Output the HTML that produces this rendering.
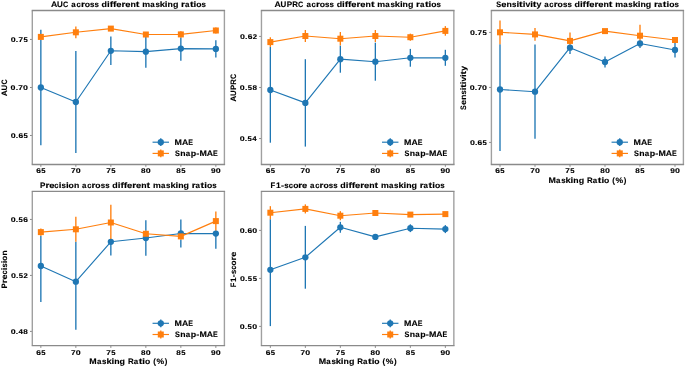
<!DOCTYPE html><html><head><meta charset="utf-8"><style>html,body{margin:0;padding:0;background:#fff;}svg{display:block;}#w{will-change:transform;width:685px;height:367px;}text{font-family:"Liberation Sans", sans-serif;font-weight:bold;fill:#000;stroke:#000;stroke-width:0.12px;text-rendering:geometricPrecision;}</style></head><body>
<div id="w"><svg width="685" height="367" viewBox="0 0 685 367">
<rect width="685" height="367" fill="#fff"/>
<text transform="translate(50.98,6.95) scale(1.101,1)" font-size="7.9">A</text>
<text transform="translate(57.02,6.95) scale(1.010,1)" font-size="7.9">U</text>
<text transform="translate(63.09,6.95) scale(0.918,1)" font-size="7.9">C</text>
<text transform="translate(71.36,6.95) scale(1.007,1)" font-size="7.9">a</text>
<text transform="translate(76.44,6.95) scale(0.959,1)" font-size="7.9">c</text>
<text transform="translate(80.9,6.95) scale(1.277,1)" font-size="7.9">r</text>
<text transform="translate(84.68,6.95) scale(1.093,1)" font-size="7.9">o</text>
<text transform="translate(90.04,6.95) scale(1.004,1)" font-size="7.9">s</text>
<text transform="translate(94.58,6.95) scale(1.004,1)" font-size="7.9">s</text>
<text transform="translate(101.62,6.95) scale(1.126,1)" font-size="7.9">d</text>
<text transform="translate(107.07,6.95) scale(1.232,1)" font-size="7.9">i</text>
<text transform="translate(109.7,6.95) scale(1.294,1)" font-size="7.9">f</text>
<text transform="translate(113.01,6.95) scale(1.294,1)" font-size="7.9">f</text>
<text transform="translate(116.33,6.95) scale(1.177,1)" font-size="7.9">e</text>
<text transform="translate(121.51,6.95) scale(1.277,1)" font-size="7.9">r</text>
<text transform="translate(125.26,6.95) scale(1.177,1)" font-size="7.9">e</text>
<text transform="translate(130.53,6.95) scale(1.103,1)" font-size="7.9">n</text>
<text transform="translate(135.85,6.95) scale(1.387,1)" font-size="7.9">t</text>
<text transform="translate(142.23,6.95) scale(1.120,1)" font-size="7.9">m</text>
<text transform="translate(150.24,6.95) scale(1.007,1)" font-size="7.9">a</text>
<text transform="translate(155.4,6.95) scale(1.004,1)" font-size="7.9">s</text>
<text transform="translate(159.8,6.95) scale(1.192,1)" font-size="7.9">k</text>
<text transform="translate(164.85,6.95) scale(1.232,1)" font-size="7.9">i</text>
<text transform="translate(167.57,6.95) scale(1.103,1)" font-size="7.9">n</text>
<text transform="translate(172.9,6.95) scale(1.130,1)" font-size="7.9">g</text>
<text transform="translate(181.02,6.95) scale(1.277,1)" font-size="7.9">r</text>
<text transform="translate(184.91,6.95) scale(1.007,1)" font-size="7.9">a</text>
<text transform="translate(189.91,6.95) scale(1.387,1)" font-size="7.9">t</text>
<text transform="translate(193.56,6.95) scale(1.232,1)" font-size="7.9">i</text>
<text transform="translate(196.21,6.95) scale(1.093,1)" font-size="7.9">o</text>
<text transform="translate(201.56,6.95) scale(1.004,1)" font-size="7.9">s</text>
<line x1="30" y1="135.48" x2="32.4" y2="135.48" stroke="#555" stroke-width="0.7"/>
<text transform="translate(10.78,138.06) scale(1.282,1)" font-size="6.88">0</text>
<text transform="translate(15.79,138.06) scale(1.258,1)" font-size="6.88">.</text>
<text transform="translate(18.44,138.06) scale(1.222,1)" font-size="6.88">6</text>
<text transform="translate(23.49,138.06) scale(1.119,1)" font-size="6.88">5</text>
<line x1="30" y1="87.48" x2="32.4" y2="87.48" stroke="#555" stroke-width="0.7"/>
<text transform="translate(10.62,90.06) scale(1.282,1)" font-size="6.88">0</text>
<text transform="translate(15.64,90.06) scale(1.258,1)" font-size="6.88">.</text>
<text transform="translate(18.3,90.06) scale(1.194,1)" font-size="6.88">7</text>
<text transform="translate(23.02,90.06) scale(1.282,1)" font-size="6.88">0</text>
<line x1="30" y1="39.43" x2="32.4" y2="39.43" stroke="#555" stroke-width="0.7"/>
<text transform="translate(10.78,42.01) scale(1.282,1)" font-size="6.88">0</text>
<text transform="translate(15.79,42.01) scale(1.258,1)" font-size="6.88">.</text>
<text transform="translate(18.45,42.01) scale(1.194,1)" font-size="6.88">7</text>
<text transform="translate(23.49,42.01) scale(1.119,1)" font-size="6.88">5</text>
<line x1="40.85" y1="164.4" x2="40.85" y2="166.8" stroke="#555" stroke-width="0.7"/>
<text transform="translate(36.14,173.3) scale(1.222,1)" font-size="6.88">6</text>
<text transform="translate(41.2,173.3) scale(1.119,1)" font-size="6.88">5</text>
<line x1="75.85" y1="164.4" x2="75.85" y2="166.8" stroke="#555" stroke-width="0.7"/>
<text transform="translate(71.06,173.3) scale(1.194,1)" font-size="6.88">7</text>
<text transform="translate(75.78,173.3) scale(1.282,1)" font-size="6.88">0</text>
<line x1="110.85" y1="164.4" x2="110.85" y2="166.8" stroke="#555" stroke-width="0.7"/>
<text transform="translate(106.13,173.3) scale(1.194,1)" font-size="6.88">7</text>
<text transform="translate(111.18,173.3) scale(1.119,1)" font-size="6.88">5</text>
<line x1="145.85" y1="164.4" x2="145.85" y2="166.8" stroke="#555" stroke-width="0.7"/>
<text transform="translate(141.11,173.3) scale(1.180,1)" font-size="6.88">8</text>
<text transform="translate(145.8,173.3) scale(1.282,1)" font-size="6.88">0</text>
<line x1="180.85" y1="164.4" x2="180.85" y2="166.8" stroke="#555" stroke-width="0.7"/>
<text transform="translate(176.19,173.3) scale(1.180,1)" font-size="6.88">8</text>
<text transform="translate(181.2,173.3) scale(1.119,1)" font-size="6.88">5</text>
<line x1="215.85" y1="164.4" x2="215.85" y2="166.8" stroke="#555" stroke-width="0.7"/>
<text transform="translate(211.05,173.3) scale(1.216,1)" font-size="6.88">9</text>
<text transform="translate(215.84,173.3) scale(1.282,1)" font-size="6.88">0</text>
<g transform="translate(7,87.95) rotate(-90)">
<text transform="translate(-8.37,0) scale(1.065,1)" font-size="7.9">A</text>
<text transform="translate(-2.53,0) scale(0.977,1)" font-size="7.9">U</text>
<text transform="translate(3.33,0) scale(0.888,1)" font-size="7.9">C</text>
</g>
<line x1="40.85" y1="29.8" x2="40.85" y2="34.4" stroke="#1f77b4" stroke-width="1.35"/>
<line x1="40.85" y1="39.4" x2="40.85" y2="145.2" stroke="#1f77b4" stroke-width="1.35"/>
<line x1="75.85" y1="51.1" x2="75.85" y2="152.9" stroke="#1f77b4" stroke-width="1.35"/>
<line x1="110.85" y1="36.6" x2="110.85" y2="65" stroke="#1f77b4" stroke-width="1.35"/>
<line x1="145.85" y1="36.5" x2="145.85" y2="67.7" stroke="#1f77b4" stroke-width="1.35"/>
<line x1="180.85" y1="37.45" x2="180.85" y2="60.7" stroke="#1f77b4" stroke-width="1.35"/>
<line x1="215.85" y1="40.2" x2="215.85" y2="57.6" stroke="#1f77b4" stroke-width="1.35"/>
<line x1="40.85" y1="34.4" x2="40.85" y2="39.4" stroke="#ff7f0e" stroke-width="1.35"/>
<line x1="75.85" y1="26.4" x2="75.85" y2="38.2" stroke="#ff7f0e" stroke-width="1.35"/>
<line x1="110.85" y1="26.6" x2="110.85" y2="30.6" stroke="#ff7f0e" stroke-width="1.35"/>
<line x1="145.85" y1="32.5" x2="145.85" y2="36.5" stroke="#ff7f0e" stroke-width="1.35"/>
<line x1="180.85" y1="31.35" x2="180.85" y2="37.45" stroke="#ff7f0e" stroke-width="1.35"/>
<line x1="215.85" y1="27.45" x2="215.85" y2="33.55" stroke="#ff7f0e" stroke-width="1.35"/>
<polyline points="40.85,87.5 75.85,102 110.85,50.8 145.85,51.65 180.85,48.6 215.85,48.9" fill="none" stroke="#1f77b4" stroke-width="1.15" stroke-linejoin="round"/>
<circle cx="40.85" cy="87.5" r="3.15" fill="#1f77b4"/>
<circle cx="75.85" cy="102" r="3.15" fill="#1f77b4"/>
<circle cx="110.85" cy="50.8" r="3.15" fill="#1f77b4"/>
<circle cx="145.85" cy="51.65" r="3.15" fill="#1f77b4"/>
<circle cx="180.85" cy="48.6" r="3.15" fill="#1f77b4"/>
<circle cx="215.85" cy="48.9" r="3.15" fill="#1f77b4"/>
<polyline points="40.85,36.9 75.85,32.3 110.85,28.6 145.85,34.5 180.85,34.4 215.85,30.5" fill="none" stroke="#ff7f0e" stroke-width="1.15" stroke-linejoin="round"/>
<rect x="37.85" y="33.9" width="6.0" height="6.0" fill="#ff7f0e"/>
<rect x="72.85" y="29.3" width="6.0" height="6.0" fill="#ff7f0e"/>
<rect x="107.85" y="25.6" width="6.0" height="6.0" fill="#ff7f0e"/>
<rect x="142.85" y="31.5" width="6.0" height="6.0" fill="#ff7f0e"/>
<rect x="177.85" y="31.4" width="6.0" height="6.0" fill="#ff7f0e"/>
<rect x="212.85" y="27.5" width="6.0" height="6.0" fill="#ff7f0e"/>
<line x1="160.78" y1="138.3" x2="160.78" y2="146.1" stroke="#1f77b4" stroke-width="1.35"/>
<line x1="152.55" y1="142.2" x2="169" y2="142.2" stroke="#1f77b4" stroke-width="1.15"/>
<circle cx="160.78" cy="142.2" r="3.15" fill="#1f77b4"/>
<text transform="translate(174.62,144.95) scale(1.122,1)" font-size="7.9">M</text>
<text transform="translate(181.93,144.95) scale(1.101,1)" font-size="7.9">A</text>
<text transform="translate(188.23,144.95) scale(0.894,1)" font-size="7.9">E</text>
<line x1="160.78" y1="149.5" x2="160.78" y2="157.3" stroke="#ff7f0e" stroke-width="1.35"/>
<line x1="152.55" y1="153.4" x2="169" y2="153.4" stroke="#ff7f0e" stroke-width="1.15"/>
<rect x="157.78" y="150.4" width="6.0" height="6.0" fill="#ff7f0e"/>
<text transform="translate(175,156.15) scale(0.927,1)" font-size="7.9">S</text>
<text transform="translate(180.22,156.15) scale(1.103,1)" font-size="7.9">n</text>
<text transform="translate(185.68,156.15) scale(1.007,1)" font-size="7.9">a</text>
<text transform="translate(190.78,156.15) scale(1.126,1)" font-size="7.9">p</text>
<text transform="translate(196.23,156.15) scale(1.173,1)" font-size="7.9">-</text>
<text transform="translate(199.45,156.15) scale(1.122,1)" font-size="7.9">M</text>
<text transform="translate(206.75,156.15) scale(1.101,1)" font-size="7.9">A</text>
<text transform="translate(213.06,156.15) scale(0.894,1)" font-size="7.9">E</text>
<line x1="32.3" y1="10.5" x2="32.3" y2="164.5" stroke="#a0a0a0" stroke-width="1.4"/>
<line x1="224.4" y1="10.5" x2="224.4" y2="164.5" stroke="#a0a0a0" stroke-width="1.4"/>
<line x1="31.7" y1="10.5" x2="225.1" y2="10.5" stroke="#8a8a8a" stroke-width="1.4"/>
<line x1="31.7" y1="164.5" x2="225.1" y2="164.5" stroke="#8a8a8a" stroke-width="1.4"/>
<text transform="translate(274.55,6.95) scale(1.101,1)" font-size="7.9">A</text>
<text transform="translate(280.59,6.95) scale(1.010,1)" font-size="7.9">U</text>
<text transform="translate(286.73,6.95) scale(1.025,1)" font-size="7.9">P</text>
<text transform="translate(292.33,6.95) scale(1.006,1)" font-size="7.9">R</text>
<text transform="translate(298.12,6.95) scale(0.918,1)" font-size="7.9">C</text>
<text transform="translate(306.39,6.95) scale(1.007,1)" font-size="7.9">a</text>
<text transform="translate(311.47,6.95) scale(0.959,1)" font-size="7.9">c</text>
<text transform="translate(315.93,6.95) scale(1.277,1)" font-size="7.9">r</text>
<text transform="translate(319.71,6.95) scale(1.093,1)" font-size="7.9">o</text>
<text transform="translate(325.07,6.95) scale(1.004,1)" font-size="7.9">s</text>
<text transform="translate(329.61,6.95) scale(1.004,1)" font-size="7.9">s</text>
<text transform="translate(336.65,6.95) scale(1.126,1)" font-size="7.9">d</text>
<text transform="translate(342.1,6.95) scale(1.232,1)" font-size="7.9">i</text>
<text transform="translate(344.73,6.95) scale(1.294,1)" font-size="7.9">f</text>
<text transform="translate(348.04,6.95) scale(1.294,1)" font-size="7.9">f</text>
<text transform="translate(351.36,6.95) scale(1.177,1)" font-size="7.9">e</text>
<text transform="translate(356.54,6.95) scale(1.277,1)" font-size="7.9">r</text>
<text transform="translate(360.29,6.95) scale(1.177,1)" font-size="7.9">e</text>
<text transform="translate(365.56,6.95) scale(1.103,1)" font-size="7.9">n</text>
<text transform="translate(370.88,6.95) scale(1.387,1)" font-size="7.9">t</text>
<text transform="translate(377.26,6.95) scale(1.120,1)" font-size="7.9">m</text>
<text transform="translate(385.27,6.95) scale(1.007,1)" font-size="7.9">a</text>
<text transform="translate(390.43,6.95) scale(1.004,1)" font-size="7.9">s</text>
<text transform="translate(394.83,6.95) scale(1.192,1)" font-size="7.9">k</text>
<text transform="translate(399.88,6.95) scale(1.232,1)" font-size="7.9">i</text>
<text transform="translate(402.6,6.95) scale(1.103,1)" font-size="7.9">n</text>
<text transform="translate(407.93,6.95) scale(1.130,1)" font-size="7.9">g</text>
<text transform="translate(416.05,6.95) scale(1.277,1)" font-size="7.9">r</text>
<text transform="translate(419.94,6.95) scale(1.007,1)" font-size="7.9">a</text>
<text transform="translate(424.94,6.95) scale(1.387,1)" font-size="7.9">t</text>
<text transform="translate(428.59,6.95) scale(1.232,1)" font-size="7.9">i</text>
<text transform="translate(431.24,6.95) scale(1.093,1)" font-size="7.9">o</text>
<text transform="translate(436.59,6.95) scale(1.004,1)" font-size="7.9">s</text>
<line x1="259.15" y1="138.54" x2="261.55" y2="138.54" stroke="#555" stroke-width="0.7"/>
<text transform="translate(239.74,141.12) scale(1.282,1)" font-size="6.88">0</text>
<text transform="translate(244.76,141.12) scale(1.258,1)" font-size="6.88">.</text>
<text transform="translate(247.59,141.12) scale(1.119,1)" font-size="6.88">5</text>
<text transform="translate(252.36,141.12) scale(1.153,1)" font-size="6.88">4</text>
<line x1="259.15" y1="87.48" x2="261.55" y2="87.48" stroke="#555" stroke-width="0.7"/>
<text transform="translate(239.87,90.06) scale(1.282,1)" font-size="6.88">0</text>
<text transform="translate(244.88,90.06) scale(1.258,1)" font-size="6.88">.</text>
<text transform="translate(247.71,90.06) scale(1.119,1)" font-size="6.88">5</text>
<text transform="translate(252.44,90.06) scale(1.180,1)" font-size="6.88">8</text>
<line x1="259.15" y1="36.42" x2="261.55" y2="36.42" stroke="#555" stroke-width="0.7"/>
<text transform="translate(240.04,39) scale(1.282,1)" font-size="6.88">0</text>
<text transform="translate(245.05,39) scale(1.258,1)" font-size="6.88">.</text>
<text transform="translate(247.7,39) scale(1.222,1)" font-size="6.88">6</text>
<text transform="translate(252.73,39) scale(1.123,1)" font-size="6.88">2</text>
<line x1="270.35" y1="164.4" x2="270.35" y2="166.8" stroke="#555" stroke-width="0.7"/>
<text transform="translate(265.64,173.3) scale(1.222,1)" font-size="6.88">6</text>
<text transform="translate(270.7,173.3) scale(1.119,1)" font-size="6.88">5</text>
<line x1="305.35" y1="164.4" x2="305.35" y2="166.8" stroke="#555" stroke-width="0.7"/>
<text transform="translate(300.56,173.3) scale(1.194,1)" font-size="6.88">7</text>
<text transform="translate(305.28,173.3) scale(1.282,1)" font-size="6.88">0</text>
<line x1="340.35" y1="164.4" x2="340.35" y2="166.8" stroke="#555" stroke-width="0.7"/>
<text transform="translate(335.63,173.3) scale(1.194,1)" font-size="6.88">7</text>
<text transform="translate(340.68,173.3) scale(1.119,1)" font-size="6.88">5</text>
<line x1="375.35" y1="164.4" x2="375.35" y2="166.8" stroke="#555" stroke-width="0.7"/>
<text transform="translate(370.61,173.3) scale(1.180,1)" font-size="6.88">8</text>
<text transform="translate(375.3,173.3) scale(1.282,1)" font-size="6.88">0</text>
<line x1="410.35" y1="164.4" x2="410.35" y2="166.8" stroke="#555" stroke-width="0.7"/>
<text transform="translate(405.69,173.3) scale(1.180,1)" font-size="6.88">8</text>
<text transform="translate(410.7,173.3) scale(1.119,1)" font-size="6.88">5</text>
<line x1="445.35" y1="164.4" x2="445.35" y2="166.8" stroke="#555" stroke-width="0.7"/>
<text transform="translate(440.55,173.3) scale(1.216,1)" font-size="6.88">9</text>
<text transform="translate(445.34,173.3) scale(1.282,1)" font-size="6.88">0</text>
<g transform="translate(236.15,87.95) rotate(-90)">
<text transform="translate(-13.91,0) scale(1.065,1)" font-size="7.9">A</text>
<text transform="translate(-8.07,0) scale(0.977,1)" font-size="7.9">U</text>
<text transform="translate(-2.14,0) scale(0.993,1)" font-size="7.9">P</text>
<text transform="translate(3.28,0) scale(0.972,1)" font-size="7.9">R</text>
<text transform="translate(8.87,0) scale(0.888,1)" font-size="7.9">C</text>
</g>
<line x1="270.35" y1="37.3" x2="270.35" y2="37.3" stroke="#1f77b4" stroke-width="1.35"/>
<line x1="270.35" y1="46.9" x2="270.35" y2="142.7" stroke="#1f77b4" stroke-width="1.35"/>
<line x1="305.35" y1="59.2" x2="305.35" y2="146.6" stroke="#1f77b4" stroke-width="1.35"/>
<line x1="340.35" y1="45.6" x2="340.35" y2="72.7" stroke="#1f77b4" stroke-width="1.35"/>
<line x1="375.35" y1="42.7" x2="375.35" y2="80.7" stroke="#1f77b4" stroke-width="1.35"/>
<line x1="410.35" y1="48.9" x2="410.35" y2="66.7" stroke="#1f77b4" stroke-width="1.35"/>
<line x1="445.35" y1="49.8" x2="445.35" y2="65.8" stroke="#1f77b4" stroke-width="1.35"/>
<line x1="270.35" y1="37.3" x2="270.35" y2="46.9" stroke="#ff7f0e" stroke-width="1.35"/>
<line x1="305.35" y1="30" x2="305.35" y2="42" stroke="#ff7f0e" stroke-width="1.35"/>
<line x1="340.35" y1="32" x2="340.35" y2="45.4" stroke="#ff7f0e" stroke-width="1.35"/>
<line x1="375.35" y1="30" x2="375.35" y2="42" stroke="#ff7f0e" stroke-width="1.35"/>
<line x1="410.35" y1="33.65" x2="410.35" y2="40.75" stroke="#ff7f0e" stroke-width="1.35"/>
<line x1="445.35" y1="26.1" x2="445.35" y2="35.7" stroke="#ff7f0e" stroke-width="1.35"/>
<polyline points="270.35,90 305.35,102.9 340.35,59.15 375.35,61.7 410.35,57.8 445.35,57.8" fill="none" stroke="#1f77b4" stroke-width="1.15" stroke-linejoin="round"/>
<circle cx="270.35" cy="90" r="3.15" fill="#1f77b4"/>
<circle cx="305.35" cy="102.9" r="3.15" fill="#1f77b4"/>
<circle cx="340.35" cy="59.15" r="3.15" fill="#1f77b4"/>
<circle cx="375.35" cy="61.7" r="3.15" fill="#1f77b4"/>
<circle cx="410.35" cy="57.8" r="3.15" fill="#1f77b4"/>
<circle cx="445.35" cy="57.8" r="3.15" fill="#1f77b4"/>
<polyline points="270.35,42.1 305.35,36 340.35,38.7 375.35,36 410.35,37.2 445.35,30.9" fill="none" stroke="#ff7f0e" stroke-width="1.15" stroke-linejoin="round"/>
<rect x="267.35" y="39.1" width="6.0" height="6.0" fill="#ff7f0e"/>
<rect x="302.35" y="33" width="6.0" height="6.0" fill="#ff7f0e"/>
<rect x="337.35" y="35.7" width="6.0" height="6.0" fill="#ff7f0e"/>
<rect x="372.35" y="33" width="6.0" height="6.0" fill="#ff7f0e"/>
<rect x="407.35" y="34.2" width="6.0" height="6.0" fill="#ff7f0e"/>
<rect x="442.35" y="27.9" width="6.0" height="6.0" fill="#ff7f0e"/>
<line x1="390.23" y1="138.3" x2="390.23" y2="146.1" stroke="#1f77b4" stroke-width="1.35"/>
<line x1="382" y1="142.2" x2="398.45" y2="142.2" stroke="#1f77b4" stroke-width="1.15"/>
<circle cx="390.23" cy="142.2" r="3.15" fill="#1f77b4"/>
<text transform="translate(404.07,144.95) scale(1.122,1)" font-size="7.9">M</text>
<text transform="translate(411.38,144.95) scale(1.101,1)" font-size="7.9">A</text>
<text transform="translate(417.68,144.95) scale(0.894,1)" font-size="7.9">E</text>
<line x1="390.23" y1="149.5" x2="390.23" y2="157.3" stroke="#ff7f0e" stroke-width="1.35"/>
<line x1="382" y1="153.4" x2="398.45" y2="153.4" stroke="#ff7f0e" stroke-width="1.15"/>
<rect x="387.23" y="150.4" width="6.0" height="6.0" fill="#ff7f0e"/>
<text transform="translate(404.45,156.15) scale(0.927,1)" font-size="7.9">S</text>
<text transform="translate(409.67,156.15) scale(1.103,1)" font-size="7.9">n</text>
<text transform="translate(415.13,156.15) scale(1.007,1)" font-size="7.9">a</text>
<text transform="translate(420.23,156.15) scale(1.126,1)" font-size="7.9">p</text>
<text transform="translate(425.68,156.15) scale(1.173,1)" font-size="7.9">-</text>
<text transform="translate(428.9,156.15) scale(1.122,1)" font-size="7.9">M</text>
<text transform="translate(436.2,156.15) scale(1.101,1)" font-size="7.9">A</text>
<text transform="translate(442.51,156.15) scale(0.894,1)" font-size="7.9">E</text>
<line x1="261.45" y1="10.5" x2="261.45" y2="164.5" stroke="#a0a0a0" stroke-width="1.4"/>
<line x1="453.85" y1="10.5" x2="453.85" y2="164.5" stroke="#a0a0a0" stroke-width="1.4"/>
<line x1="260.85" y1="10.5" x2="454.55" y2="10.5" stroke="#8a8a8a" stroke-width="1.4"/>
<line x1="260.85" y1="164.5" x2="454.55" y2="164.5" stroke="#8a8a8a" stroke-width="1.4"/>
<text transform="translate(496.16,6.95) scale(0.927,1)" font-size="7.9">S</text>
<text transform="translate(501.29,6.95) scale(1.177,1)" font-size="7.9">e</text>
<text transform="translate(506.55,6.95) scale(1.103,1)" font-size="7.9">n</text>
<text transform="translate(512.03,6.95) scale(1.004,1)" font-size="7.9">s</text>
<text transform="translate(516.41,6.95) scale(1.232,1)" font-size="7.9">i</text>
<text transform="translate(519.02,6.95) scale(1.387,1)" font-size="7.9">t</text>
<text transform="translate(522.67,6.95) scale(1.232,1)" font-size="7.9">i</text>
<text transform="translate(525.39,6.95) scale(1.098,1)" font-size="7.9">v</text>
<text transform="translate(530.26,6.95) scale(1.232,1)" font-size="7.9">i</text>
<text transform="translate(532.87,6.95) scale(1.387,1)" font-size="7.9">t</text>
<text transform="translate(536.57,6.95) scale(1.110,1)" font-size="7.9">y</text>
<text transform="translate(544.28,6.95) scale(1.007,1)" font-size="7.9">a</text>
<text transform="translate(549.36,6.95) scale(0.959,1)" font-size="7.9">c</text>
<text transform="translate(553.82,6.95) scale(1.277,1)" font-size="7.9">r</text>
<text transform="translate(557.6,6.95) scale(1.093,1)" font-size="7.9">o</text>
<text transform="translate(562.96,6.95) scale(1.004,1)" font-size="7.9">s</text>
<text transform="translate(567.5,6.95) scale(1.004,1)" font-size="7.9">s</text>
<text transform="translate(574.55,6.95) scale(1.126,1)" font-size="7.9">d</text>
<text transform="translate(579.99,6.95) scale(1.232,1)" font-size="7.9">i</text>
<text transform="translate(582.62,6.95) scale(1.294,1)" font-size="7.9">f</text>
<text transform="translate(585.94,6.95) scale(1.294,1)" font-size="7.9">f</text>
<text transform="translate(589.25,6.95) scale(1.177,1)" font-size="7.9">e</text>
<text transform="translate(594.43,6.95) scale(1.277,1)" font-size="7.9">r</text>
<text transform="translate(598.19,6.95) scale(1.177,1)" font-size="7.9">e</text>
<text transform="translate(603.45,6.95) scale(1.103,1)" font-size="7.9">n</text>
<text transform="translate(608.77,6.95) scale(1.387,1)" font-size="7.9">t</text>
<text transform="translate(615.15,6.95) scale(1.120,1)" font-size="7.9">m</text>
<text transform="translate(623.16,6.95) scale(1.007,1)" font-size="7.9">a</text>
<text transform="translate(628.32,6.95) scale(1.004,1)" font-size="7.9">s</text>
<text transform="translate(632.72,6.95) scale(1.192,1)" font-size="7.9">k</text>
<text transform="translate(637.77,6.95) scale(1.232,1)" font-size="7.9">i</text>
<text transform="translate(640.49,6.95) scale(1.103,1)" font-size="7.9">n</text>
<text transform="translate(645.82,6.95) scale(1.130,1)" font-size="7.9">g</text>
<text transform="translate(653.94,6.95) scale(1.277,1)" font-size="7.9">r</text>
<text transform="translate(657.83,6.95) scale(1.007,1)" font-size="7.9">a</text>
<text transform="translate(662.83,6.95) scale(1.387,1)" font-size="7.9">t</text>
<text transform="translate(666.48,6.95) scale(1.232,1)" font-size="7.9">i</text>
<text transform="translate(669.13,6.95) scale(1.093,1)" font-size="7.9">o</text>
<text transform="translate(674.49,6.95) scale(1.004,1)" font-size="7.9">s</text>
<line x1="489.1" y1="142.43" x2="491.5" y2="142.43" stroke="#555" stroke-width="0.7"/>
<text transform="translate(469.88,145.01) scale(1.282,1)" font-size="6.88">0</text>
<text transform="translate(474.89,145.01) scale(1.258,1)" font-size="6.88">.</text>
<text transform="translate(477.54,145.01) scale(1.222,1)" font-size="6.88">6</text>
<text transform="translate(482.59,145.01) scale(1.119,1)" font-size="6.88">5</text>
<line x1="489.1" y1="87.43" x2="491.5" y2="87.43" stroke="#555" stroke-width="0.7"/>
<text transform="translate(469.72,90.01) scale(1.282,1)" font-size="6.88">0</text>
<text transform="translate(474.74,90.01) scale(1.258,1)" font-size="6.88">.</text>
<text transform="translate(477.4,90.01) scale(1.194,1)" font-size="6.88">7</text>
<text transform="translate(482.12,90.01) scale(1.282,1)" font-size="6.88">0</text>
<line x1="489.1" y1="32.43" x2="491.5" y2="32.43" stroke="#555" stroke-width="0.7"/>
<text transform="translate(469.88,35.01) scale(1.282,1)" font-size="6.88">0</text>
<text transform="translate(474.89,35.01) scale(1.258,1)" font-size="6.88">.</text>
<text transform="translate(477.55,35.01) scale(1.194,1)" font-size="6.88">7</text>
<text transform="translate(482.59,35.01) scale(1.119,1)" font-size="6.88">5</text>
<line x1="500" y1="164.4" x2="500" y2="166.8" stroke="#555" stroke-width="0.7"/>
<text transform="translate(495.29,173.3) scale(1.222,1)" font-size="6.88">6</text>
<text transform="translate(500.35,173.3) scale(1.119,1)" font-size="6.88">5</text>
<line x1="535" y1="164.4" x2="535" y2="166.8" stroke="#555" stroke-width="0.7"/>
<text transform="translate(530.21,173.3) scale(1.194,1)" font-size="6.88">7</text>
<text transform="translate(534.93,173.3) scale(1.282,1)" font-size="6.88">0</text>
<line x1="570" y1="164.4" x2="570" y2="166.8" stroke="#555" stroke-width="0.7"/>
<text transform="translate(565.28,173.3) scale(1.194,1)" font-size="6.88">7</text>
<text transform="translate(570.33,173.3) scale(1.119,1)" font-size="6.88">5</text>
<line x1="605" y1="164.4" x2="605" y2="166.8" stroke="#555" stroke-width="0.7"/>
<text transform="translate(600.26,173.3) scale(1.180,1)" font-size="6.88">8</text>
<text transform="translate(604.95,173.3) scale(1.282,1)" font-size="6.88">0</text>
<line x1="640" y1="164.4" x2="640" y2="166.8" stroke="#555" stroke-width="0.7"/>
<text transform="translate(635.34,173.3) scale(1.180,1)" font-size="6.88">8</text>
<text transform="translate(640.35,173.3) scale(1.119,1)" font-size="6.88">5</text>
<line x1="675" y1="164.4" x2="675" y2="166.8" stroke="#555" stroke-width="0.7"/>
<text transform="translate(670.2,173.3) scale(1.216,1)" font-size="6.88">9</text>
<text transform="translate(674.99,173.3) scale(1.282,1)" font-size="6.88">0</text>
<g transform="translate(466.1,87.95) rotate(-90)">
<text transform="translate(-21.96,0) scale(0.897,1)" font-size="7.9">S</text>
<text transform="translate(-17,0) scale(1.140,1)" font-size="7.9">e</text>
<text transform="translate(-11.91,0) scale(1.066,1)" font-size="7.9">n</text>
<text transform="translate(-6.6,0) scale(0.971,1)" font-size="7.9">s</text>
<text transform="translate(-2.37,0) scale(1.188,1)" font-size="7.9">i</text>
<text transform="translate(0.17,0) scale(1.342,1)" font-size="7.9">t</text>
<text transform="translate(3.68,0) scale(1.188,1)" font-size="7.9">i</text>
<text transform="translate(6.33,0) scale(1.062,1)" font-size="7.9">v</text>
<text transform="translate(11.02,0) scale(1.188,1)" font-size="7.9">i</text>
<text transform="translate(13.55,0) scale(1.342,1)" font-size="7.9">t</text>
<text transform="translate(17.12,0) scale(1.073,1)" font-size="7.9">y</text>
</g>
<text transform="translate(548.41,182.85) scale(1.122,1)" font-size="7.9">M</text>
<text transform="translate(555.99,182.85) scale(1.007,1)" font-size="7.9">a</text>
<text transform="translate(561.15,182.85) scale(1.004,1)" font-size="7.9">s</text>
<text transform="translate(565.56,182.85) scale(1.192,1)" font-size="7.9">k</text>
<text transform="translate(570.61,182.85) scale(1.232,1)" font-size="7.9">i</text>
<text transform="translate(573.33,182.85) scale(1.103,1)" font-size="7.9">n</text>
<text transform="translate(578.66,182.85) scale(1.130,1)" font-size="7.9">g</text>
<text transform="translate(586.96,182.85) scale(1.006,1)" font-size="7.9">R</text>
<text transform="translate(592.77,182.85) scale(1.007,1)" font-size="7.9">a</text>
<text transform="translate(597.77,182.85) scale(1.387,1)" font-size="7.9">t</text>
<text transform="translate(601.42,182.85) scale(1.232,1)" font-size="7.9">i</text>
<text transform="translate(604.07,182.85) scale(1.093,1)" font-size="7.9">o</text>
<text transform="translate(612.23,182.85) scale(1.000,1)" font-size="7.9">(</text>
<text transform="translate(615.48,182.85) scale(1.083,1)" font-size="7.9">%</text>
<text transform="translate(623.7,182.85) scale(1.000,1)" font-size="7.9">)</text>
<line x1="500" y1="44.2" x2="500" y2="151" stroke="#1f77b4" stroke-width="1.35"/>
<line x1="535" y1="44.55" x2="535" y2="138.85" stroke="#1f77b4" stroke-width="1.35"/>
<line x1="570" y1="49.3" x2="570" y2="53.9" stroke="#1f77b4" stroke-width="1.35"/>
<line x1="605" y1="56.6" x2="605" y2="67.4" stroke="#1f77b4" stroke-width="1.35"/>
<line x1="640" y1="46.6" x2="640" y2="48" stroke="#1f77b4" stroke-width="1.35"/>
<line x1="675" y1="42.5" x2="675" y2="57.5" stroke="#1f77b4" stroke-width="1.35"/>
<line x1="500" y1="20.4" x2="500" y2="44.2" stroke="#ff7f0e" stroke-width="1.35"/>
<line x1="535" y1="27.95" x2="535" y2="40.85" stroke="#ff7f0e" stroke-width="1.35"/>
<line x1="570" y1="32.5" x2="570" y2="49.3" stroke="#ff7f0e" stroke-width="1.35"/>
<line x1="605" y1="29.1" x2="605" y2="33.1" stroke="#ff7f0e" stroke-width="1.35"/>
<line x1="640" y1="24.8" x2="640" y2="46.6" stroke="#ff7f0e" stroke-width="1.35"/>
<line x1="675" y1="38" x2="675" y2="42" stroke="#ff7f0e" stroke-width="1.35"/>
<polyline points="500,89.5 535,91.7 570,47.7 605,62 640,43.5 675,50" fill="none" stroke="#1f77b4" stroke-width="1.15" stroke-linejoin="round"/>
<circle cx="500" cy="89.5" r="3.15" fill="#1f77b4"/>
<circle cx="535" cy="91.7" r="3.15" fill="#1f77b4"/>
<circle cx="570" cy="47.7" r="3.15" fill="#1f77b4"/>
<circle cx="605" cy="62" r="3.15" fill="#1f77b4"/>
<circle cx="640" cy="43.5" r="3.15" fill="#1f77b4"/>
<circle cx="675" cy="50" r="3.15" fill="#1f77b4"/>
<polyline points="500,32.3 535,34.4 570,40.9 605,31.1 640,35.7 675,40" fill="none" stroke="#ff7f0e" stroke-width="1.15" stroke-linejoin="round"/>
<rect x="497" y="29.3" width="6.0" height="6.0" fill="#ff7f0e"/>
<rect x="532" y="31.4" width="6.0" height="6.0" fill="#ff7f0e"/>
<rect x="567" y="37.9" width="6.0" height="6.0" fill="#ff7f0e"/>
<rect x="602" y="28.1" width="6.0" height="6.0" fill="#ff7f0e"/>
<rect x="637" y="32.7" width="6.0" height="6.0" fill="#ff7f0e"/>
<rect x="672" y="37" width="6.0" height="6.0" fill="#ff7f0e"/>
<line x1="619.77" y1="138.3" x2="619.77" y2="146.1" stroke="#1f77b4" stroke-width="1.35"/>
<line x1="611.55" y1="142.2" x2="628" y2="142.2" stroke="#1f77b4" stroke-width="1.15"/>
<circle cx="619.77" cy="142.2" r="3.15" fill="#1f77b4"/>
<text transform="translate(633.62,144.95) scale(1.122,1)" font-size="7.9">M</text>
<text transform="translate(640.93,144.95) scale(1.101,1)" font-size="7.9">A</text>
<text transform="translate(647.23,144.95) scale(0.894,1)" font-size="7.9">E</text>
<line x1="619.77" y1="149.5" x2="619.77" y2="157.3" stroke="#ff7f0e" stroke-width="1.35"/>
<line x1="611.55" y1="153.4" x2="628" y2="153.4" stroke="#ff7f0e" stroke-width="1.15"/>
<rect x="616.77" y="150.4" width="6.0" height="6.0" fill="#ff7f0e"/>
<text transform="translate(634,156.15) scale(0.927,1)" font-size="7.9">S</text>
<text transform="translate(639.22,156.15) scale(1.103,1)" font-size="7.9">n</text>
<text transform="translate(644.68,156.15) scale(1.007,1)" font-size="7.9">a</text>
<text transform="translate(649.78,156.15) scale(1.126,1)" font-size="7.9">p</text>
<text transform="translate(655.23,156.15) scale(1.173,1)" font-size="7.9">-</text>
<text transform="translate(658.45,156.15) scale(1.122,1)" font-size="7.9">M</text>
<text transform="translate(665.75,156.15) scale(1.101,1)" font-size="7.9">A</text>
<text transform="translate(672.06,156.15) scale(0.894,1)" font-size="7.9">E</text>
<line x1="491.4" y1="10.5" x2="491.4" y2="164.5" stroke="#a0a0a0" stroke-width="1.4"/>
<line x1="683.4" y1="10.5" x2="683.4" y2="164.5" stroke="#a0a0a0" stroke-width="1.4"/>
<line x1="490.8" y1="10.5" x2="684.1" y2="10.5" stroke="#8a8a8a" stroke-width="1.4"/>
<line x1="490.8" y1="164.5" x2="684.1" y2="164.5" stroke="#8a8a8a" stroke-width="1.4"/>
<text transform="translate(39.97,187.85) scale(1.025,1)" font-size="7.9">P</text>
<text transform="translate(45.38,187.85) scale(1.277,1)" font-size="7.9">r</text>
<text transform="translate(49.14,187.85) scale(1.177,1)" font-size="7.9">e</text>
<text transform="translate(54.37,187.85) scale(0.959,1)" font-size="7.9">c</text>
<text transform="translate(58.82,187.85) scale(1.232,1)" font-size="7.9">i</text>
<text transform="translate(61.59,187.85) scale(1.004,1)" font-size="7.9">s</text>
<text transform="translate(65.97,187.85) scale(1.232,1)" font-size="7.9">i</text>
<text transform="translate(68.62,187.85) scale(1.093,1)" font-size="7.9">o</text>
<text transform="translate(73.93,187.85) scale(1.103,1)" font-size="7.9">n</text>
<text transform="translate(82.05,187.85) scale(1.007,1)" font-size="7.9">a</text>
<text transform="translate(87.13,187.85) scale(0.959,1)" font-size="7.9">c</text>
<text transform="translate(91.59,187.85) scale(1.277,1)" font-size="7.9">r</text>
<text transform="translate(95.37,187.85) scale(1.093,1)" font-size="7.9">o</text>
<text transform="translate(100.73,187.85) scale(1.004,1)" font-size="7.9">s</text>
<text transform="translate(105.27,187.85) scale(1.004,1)" font-size="7.9">s</text>
<text transform="translate(112.31,187.85) scale(1.126,1)" font-size="7.9">d</text>
<text transform="translate(117.76,187.85) scale(1.232,1)" font-size="7.9">i</text>
<text transform="translate(120.38,187.85) scale(1.294,1)" font-size="7.9">f</text>
<text transform="translate(123.7,187.85) scale(1.294,1)" font-size="7.9">f</text>
<text transform="translate(127.02,187.85) scale(1.177,1)" font-size="7.9">e</text>
<text transform="translate(132.19,187.85) scale(1.277,1)" font-size="7.9">r</text>
<text transform="translate(135.95,187.85) scale(1.177,1)" font-size="7.9">e</text>
<text transform="translate(141.22,187.85) scale(1.103,1)" font-size="7.9">n</text>
<text transform="translate(146.54,187.85) scale(1.387,1)" font-size="7.9">t</text>
<text transform="translate(152.92,187.85) scale(1.120,1)" font-size="7.9">m</text>
<text transform="translate(160.92,187.85) scale(1.007,1)" font-size="7.9">a</text>
<text transform="translate(166.09,187.85) scale(1.004,1)" font-size="7.9">s</text>
<text transform="translate(170.49,187.85) scale(1.192,1)" font-size="7.9">k</text>
<text transform="translate(175.54,187.85) scale(1.232,1)" font-size="7.9">i</text>
<text transform="translate(178.26,187.85) scale(1.103,1)" font-size="7.9">n</text>
<text transform="translate(183.59,187.85) scale(1.130,1)" font-size="7.9">g</text>
<text transform="translate(191.71,187.85) scale(1.277,1)" font-size="7.9">r</text>
<text transform="translate(195.59,187.85) scale(1.007,1)" font-size="7.9">a</text>
<text transform="translate(200.6,187.85) scale(1.387,1)" font-size="7.9">t</text>
<text transform="translate(204.24,187.85) scale(1.232,1)" font-size="7.9">i</text>
<text transform="translate(206.89,187.85) scale(1.093,1)" font-size="7.9">o</text>
<text transform="translate(212.25,187.85) scale(1.004,1)" font-size="7.9">s</text>
<line x1="30" y1="331.4" x2="32.4" y2="331.4" stroke="#555" stroke-width="0.7"/>
<text transform="translate(10.72,333.98) scale(1.282,1)" font-size="6.88">0</text>
<text transform="translate(15.73,333.98) scale(1.258,1)" font-size="6.88">.</text>
<text transform="translate(18.46,333.98) scale(1.153,1)" font-size="6.88">4</text>
<text transform="translate(23.29,333.98) scale(1.180,1)" font-size="6.88">8</text>
<line x1="30" y1="275.42" x2="32.4" y2="275.42" stroke="#555" stroke-width="0.7"/>
<text transform="translate(10.89,278) scale(1.282,1)" font-size="6.88">0</text>
<text transform="translate(15.9,278) scale(1.258,1)" font-size="6.88">.</text>
<text transform="translate(18.73,278) scale(1.119,1)" font-size="6.88">5</text>
<text transform="translate(23.58,278) scale(1.123,1)" font-size="6.88">2</text>
<line x1="30" y1="219.43" x2="32.4" y2="219.43" stroke="#555" stroke-width="0.7"/>
<text transform="translate(10.67,222.01) scale(1.282,1)" font-size="6.88">0</text>
<text transform="translate(15.68,222.01) scale(1.258,1)" font-size="6.88">.</text>
<text transform="translate(18.51,222.01) scale(1.119,1)" font-size="6.88">5</text>
<text transform="translate(23.2,222.01) scale(1.222,1)" font-size="6.88">6</text>
<line x1="40.85" y1="345.5" x2="40.85" y2="347.9" stroke="#555" stroke-width="0.7"/>
<text transform="translate(36.14,354.8) scale(1.222,1)" font-size="6.88">6</text>
<text transform="translate(41.2,354.8) scale(1.119,1)" font-size="6.88">5</text>
<line x1="75.85" y1="345.5" x2="75.85" y2="347.9" stroke="#555" stroke-width="0.7"/>
<text transform="translate(71.06,354.8) scale(1.194,1)" font-size="6.88">7</text>
<text transform="translate(75.78,354.8) scale(1.282,1)" font-size="6.88">0</text>
<line x1="110.85" y1="345.5" x2="110.85" y2="347.9" stroke="#555" stroke-width="0.7"/>
<text transform="translate(106.13,354.8) scale(1.194,1)" font-size="6.88">7</text>
<text transform="translate(111.18,354.8) scale(1.119,1)" font-size="6.88">5</text>
<line x1="145.85" y1="345.5" x2="145.85" y2="347.9" stroke="#555" stroke-width="0.7"/>
<text transform="translate(141.11,354.8) scale(1.180,1)" font-size="6.88">8</text>
<text transform="translate(145.8,354.8) scale(1.282,1)" font-size="6.88">0</text>
<line x1="180.85" y1="345.5" x2="180.85" y2="347.9" stroke="#555" stroke-width="0.7"/>
<text transform="translate(176.19,354.8) scale(1.180,1)" font-size="6.88">8</text>
<text transform="translate(181.2,354.8) scale(1.119,1)" font-size="6.88">5</text>
<line x1="215.85" y1="345.5" x2="215.85" y2="347.9" stroke="#555" stroke-width="0.7"/>
<text transform="translate(211.05,354.8) scale(1.216,1)" font-size="6.88">9</text>
<text transform="translate(215.84,354.8) scale(1.282,1)" font-size="6.88">0</text>
<g transform="translate(7,269.45) rotate(-90)">
<text transform="translate(-18.97,0) scale(0.993,1)" font-size="7.9">P</text>
<text transform="translate(-13.75,0) scale(1.232,1)" font-size="7.9">r</text>
<text transform="translate(-10.11,0) scale(1.140,1)" font-size="7.9">e</text>
<text transform="translate(-5.05,0) scale(0.931,1)" font-size="7.9">c</text>
<text transform="translate(-0.75,0) scale(1.188,1)" font-size="7.9">i</text>
<text transform="translate(1.93,0) scale(0.971,1)" font-size="7.9">s</text>
<text transform="translate(6.16,0) scale(1.188,1)" font-size="7.9">i</text>
<text transform="translate(8.73,0) scale(1.056,1)" font-size="7.9">o</text>
<text transform="translate(13.86,0) scale(1.066,1)" font-size="7.9">n</text>
</g>
<text transform="translate(89.36,364.35) scale(1.122,1)" font-size="7.9">M</text>
<text transform="translate(96.94,364.35) scale(1.007,1)" font-size="7.9">a</text>
<text transform="translate(102.1,364.35) scale(1.004,1)" font-size="7.9">s</text>
<text transform="translate(106.51,364.35) scale(1.192,1)" font-size="7.9">k</text>
<text transform="translate(111.56,364.35) scale(1.232,1)" font-size="7.9">i</text>
<text transform="translate(114.28,364.35) scale(1.103,1)" font-size="7.9">n</text>
<text transform="translate(119.61,364.35) scale(1.130,1)" font-size="7.9">g</text>
<text transform="translate(127.91,364.35) scale(1.006,1)" font-size="7.9">R</text>
<text transform="translate(133.72,364.35) scale(1.007,1)" font-size="7.9">a</text>
<text transform="translate(138.72,364.35) scale(1.387,1)" font-size="7.9">t</text>
<text transform="translate(142.37,364.35) scale(1.232,1)" font-size="7.9">i</text>
<text transform="translate(145.02,364.35) scale(1.093,1)" font-size="7.9">o</text>
<text transform="translate(153.18,364.35) scale(1.000,1)" font-size="7.9">(</text>
<text transform="translate(156.43,364.35) scale(1.083,1)" font-size="7.9">%</text>
<text transform="translate(164.65,364.35) scale(1.000,1)" font-size="7.9">)</text>
<line x1="40.85" y1="235.65" x2="40.85" y2="302.1" stroke="#1f77b4" stroke-width="1.35"/>
<line x1="75.85" y1="241.8" x2="75.85" y2="329.8" stroke="#1f77b4" stroke-width="1.35"/>
<line x1="110.85" y1="240.2" x2="110.85" y2="255.6" stroke="#1f77b4" stroke-width="1.35"/>
<line x1="145.85" y1="220.3" x2="145.85" y2="230.8" stroke="#1f77b4" stroke-width="1.35"/>
<line x1="145.85" y1="236.8" x2="145.85" y2="255.7" stroke="#1f77b4" stroke-width="1.35"/>
<line x1="180.85" y1="219.55" x2="180.85" y2="233.4" stroke="#1f77b4" stroke-width="1.35"/>
<line x1="180.85" y1="239.4" x2="180.85" y2="247.45" stroke="#1f77b4" stroke-width="1.35"/>
<line x1="215.85" y1="230.8" x2="215.85" y2="248.7" stroke="#1f77b4" stroke-width="1.35"/>
<line x1="40.85" y1="228.55" x2="40.85" y2="235.65" stroke="#ff7f0e" stroke-width="1.35"/>
<line x1="75.85" y1="216.8" x2="75.85" y2="241.8" stroke="#ff7f0e" stroke-width="1.35"/>
<line x1="110.85" y1="204.8" x2="110.85" y2="240.2" stroke="#ff7f0e" stroke-width="1.35"/>
<line x1="145.85" y1="230.8" x2="145.85" y2="236.8" stroke="#ff7f0e" stroke-width="1.35"/>
<line x1="180.85" y1="233.4" x2="180.85" y2="239.4" stroke="#ff7f0e" stroke-width="1.35"/>
<line x1="215.85" y1="211.4" x2="215.85" y2="230.8" stroke="#ff7f0e" stroke-width="1.35"/>
<polyline points="40.85,266 75.85,281.65 110.85,241.8 145.85,238 180.85,233.5 215.85,233.6" fill="none" stroke="#1f77b4" stroke-width="1.15" stroke-linejoin="round"/>
<circle cx="40.85" cy="266" r="3.15" fill="#1f77b4"/>
<circle cx="75.85" cy="281.65" r="3.15" fill="#1f77b4"/>
<circle cx="110.85" cy="241.8" r="3.15" fill="#1f77b4"/>
<circle cx="145.85" cy="238" r="3.15" fill="#1f77b4"/>
<circle cx="180.85" cy="233.5" r="3.15" fill="#1f77b4"/>
<circle cx="215.85" cy="233.6" r="3.15" fill="#1f77b4"/>
<polyline points="40.85,232.1 75.85,229.3 110.85,222.5 145.85,233.8 180.85,236.4 215.85,221.1" fill="none" stroke="#ff7f0e" stroke-width="1.15" stroke-linejoin="round"/>
<rect x="37.85" y="229.1" width="6.0" height="6.0" fill="#ff7f0e"/>
<rect x="72.85" y="226.3" width="6.0" height="6.0" fill="#ff7f0e"/>
<rect x="107.85" y="219.5" width="6.0" height="6.0" fill="#ff7f0e"/>
<rect x="142.85" y="230.8" width="6.0" height="6.0" fill="#ff7f0e"/>
<rect x="177.85" y="233.4" width="6.0" height="6.0" fill="#ff7f0e"/>
<rect x="212.85" y="218.1" width="6.0" height="6.0" fill="#ff7f0e"/>
<line x1="160.78" y1="319.4" x2="160.78" y2="327.2" stroke="#1f77b4" stroke-width="1.35"/>
<line x1="152.55" y1="323.3" x2="169" y2="323.3" stroke="#1f77b4" stroke-width="1.15"/>
<circle cx="160.78" cy="323.3" r="3.15" fill="#1f77b4"/>
<text transform="translate(174.62,326.05) scale(1.122,1)" font-size="7.9">M</text>
<text transform="translate(181.93,326.05) scale(1.101,1)" font-size="7.9">A</text>
<text transform="translate(188.23,326.05) scale(0.894,1)" font-size="7.9">E</text>
<line x1="160.78" y1="330.6" x2="160.78" y2="338.4" stroke="#ff7f0e" stroke-width="1.35"/>
<line x1="152.55" y1="334.5" x2="169" y2="334.5" stroke="#ff7f0e" stroke-width="1.15"/>
<rect x="157.78" y="331.5" width="6.0" height="6.0" fill="#ff7f0e"/>
<text transform="translate(175,337.25) scale(0.927,1)" font-size="7.9">S</text>
<text transform="translate(180.22,337.25) scale(1.103,1)" font-size="7.9">n</text>
<text transform="translate(185.68,337.25) scale(1.007,1)" font-size="7.9">a</text>
<text transform="translate(190.78,337.25) scale(1.126,1)" font-size="7.9">p</text>
<text transform="translate(196.23,337.25) scale(1.173,1)" font-size="7.9">-</text>
<text transform="translate(199.45,337.25) scale(1.122,1)" font-size="7.9">M</text>
<text transform="translate(206.75,337.25) scale(1.101,1)" font-size="7.9">A</text>
<text transform="translate(213.06,337.25) scale(0.894,1)" font-size="7.9">E</text>
<line x1="32.3" y1="191.4" x2="32.3" y2="345.6" stroke="#a0a0a0" stroke-width="1.4"/>
<line x1="224.4" y1="191.4" x2="224.4" y2="345.6" stroke="#a0a0a0" stroke-width="1.4"/>
<line x1="31.7" y1="191.4" x2="225.1" y2="191.4" stroke="#8a8a8a" stroke-width="1.4"/>
<line x1="31.7" y1="345.6" x2="225.1" y2="345.6" stroke="#8a8a8a" stroke-width="1.4"/>
<text transform="translate(270.58,187.85) scale(0.969,1)" font-size="7.9">F</text>
<text transform="translate(275.94,187.85) scale(1.073,1)" font-size="7.9">1</text>
<text transform="translate(280.97,187.85) scale(1.173,1)" font-size="7.9">-</text>
<text transform="translate(284.2,187.85) scale(1.004,1)" font-size="7.9">s</text>
<text transform="translate(288.65,187.85) scale(0.959,1)" font-size="7.9">c</text>
<text transform="translate(293.13,187.85) scale(1.093,1)" font-size="7.9">o</text>
<text transform="translate(298.35,187.85) scale(1.277,1)" font-size="7.9">r</text>
<text transform="translate(302.11,187.85) scale(1.177,1)" font-size="7.9">e</text>
<text transform="translate(310.06,187.85) scale(1.007,1)" font-size="7.9">a</text>
<text transform="translate(315.14,187.85) scale(0.959,1)" font-size="7.9">c</text>
<text transform="translate(319.6,187.85) scale(1.277,1)" font-size="7.9">r</text>
<text transform="translate(323.39,187.85) scale(1.093,1)" font-size="7.9">o</text>
<text transform="translate(328.74,187.85) scale(1.004,1)" font-size="7.9">s</text>
<text transform="translate(333.28,187.85) scale(1.004,1)" font-size="7.9">s</text>
<text transform="translate(340.33,187.85) scale(1.126,1)" font-size="7.9">d</text>
<text transform="translate(345.78,187.85) scale(1.232,1)" font-size="7.9">i</text>
<text transform="translate(348.4,187.85) scale(1.294,1)" font-size="7.9">f</text>
<text transform="translate(351.72,187.85) scale(1.294,1)" font-size="7.9">f</text>
<text transform="translate(355.04,187.85) scale(1.177,1)" font-size="7.9">e</text>
<text transform="translate(360.21,187.85) scale(1.277,1)" font-size="7.9">r</text>
<text transform="translate(363.97,187.85) scale(1.177,1)" font-size="7.9">e</text>
<text transform="translate(369.23,187.85) scale(1.103,1)" font-size="7.9">n</text>
<text transform="translate(374.55,187.85) scale(1.387,1)" font-size="7.9">t</text>
<text transform="translate(380.94,187.85) scale(1.120,1)" font-size="7.9">m</text>
<text transform="translate(388.94,187.85) scale(1.007,1)" font-size="7.9">a</text>
<text transform="translate(394.1,187.85) scale(1.004,1)" font-size="7.9">s</text>
<text transform="translate(398.51,187.85) scale(1.192,1)" font-size="7.9">k</text>
<text transform="translate(403.56,187.85) scale(1.232,1)" font-size="7.9">i</text>
<text transform="translate(406.27,187.85) scale(1.103,1)" font-size="7.9">n</text>
<text transform="translate(411.61,187.85) scale(1.130,1)" font-size="7.9">g</text>
<text transform="translate(419.73,187.85) scale(1.277,1)" font-size="7.9">r</text>
<text transform="translate(423.61,187.85) scale(1.007,1)" font-size="7.9">a</text>
<text transform="translate(428.61,187.85) scale(1.387,1)" font-size="7.9">t</text>
<text transform="translate(432.26,187.85) scale(1.232,1)" font-size="7.9">i</text>
<text transform="translate(434.91,187.85) scale(1.093,1)" font-size="7.9">o</text>
<text transform="translate(440.27,187.85) scale(1.004,1)" font-size="7.9">s</text>
<line x1="259.15" y1="326.4" x2="261.55" y2="326.4" stroke="#555" stroke-width="0.7"/>
<text transform="translate(239.77,328.98) scale(1.282,1)" font-size="6.88">0</text>
<text transform="translate(244.79,328.98) scale(1.258,1)" font-size="6.88">.</text>
<text transform="translate(247.62,328.98) scale(1.119,1)" font-size="6.88">5</text>
<text transform="translate(252.17,328.98) scale(1.282,1)" font-size="6.88">0</text>
<line x1="259.15" y1="278.4" x2="261.55" y2="278.4" stroke="#555" stroke-width="0.7"/>
<text transform="translate(239.93,280.98) scale(1.282,1)" font-size="6.88">0</text>
<text transform="translate(244.94,280.98) scale(1.258,1)" font-size="6.88">.</text>
<text transform="translate(247.77,280.98) scale(1.119,1)" font-size="6.88">5</text>
<text transform="translate(252.64,280.98) scale(1.119,1)" font-size="6.88">5</text>
<line x1="259.15" y1="230.4" x2="261.55" y2="230.4" stroke="#555" stroke-width="0.7"/>
<text transform="translate(239.77,232.98) scale(1.282,1)" font-size="6.88">0</text>
<text transform="translate(244.79,232.98) scale(1.258,1)" font-size="6.88">.</text>
<text transform="translate(247.43,232.98) scale(1.222,1)" font-size="6.88">6</text>
<text transform="translate(252.17,232.98) scale(1.282,1)" font-size="6.88">0</text>
<line x1="270.35" y1="345.5" x2="270.35" y2="347.9" stroke="#555" stroke-width="0.7"/>
<text transform="translate(265.64,354.8) scale(1.222,1)" font-size="6.88">6</text>
<text transform="translate(270.7,354.8) scale(1.119,1)" font-size="6.88">5</text>
<line x1="305.35" y1="345.5" x2="305.35" y2="347.9" stroke="#555" stroke-width="0.7"/>
<text transform="translate(300.56,354.8) scale(1.194,1)" font-size="6.88">7</text>
<text transform="translate(305.28,354.8) scale(1.282,1)" font-size="6.88">0</text>
<line x1="340.35" y1="345.5" x2="340.35" y2="347.9" stroke="#555" stroke-width="0.7"/>
<text transform="translate(335.63,354.8) scale(1.194,1)" font-size="6.88">7</text>
<text transform="translate(340.68,354.8) scale(1.119,1)" font-size="6.88">5</text>
<line x1="375.35" y1="345.5" x2="375.35" y2="347.9" stroke="#555" stroke-width="0.7"/>
<text transform="translate(370.61,354.8) scale(1.180,1)" font-size="6.88">8</text>
<text transform="translate(375.3,354.8) scale(1.282,1)" font-size="6.88">0</text>
<line x1="410.35" y1="345.5" x2="410.35" y2="347.9" stroke="#555" stroke-width="0.7"/>
<text transform="translate(405.69,354.8) scale(1.180,1)" font-size="6.88">8</text>
<text transform="translate(410.7,354.8) scale(1.119,1)" font-size="6.88">5</text>
<line x1="445.35" y1="345.5" x2="445.35" y2="347.9" stroke="#555" stroke-width="0.7"/>
<text transform="translate(440.55,354.8) scale(1.216,1)" font-size="6.88">9</text>
<text transform="translate(445.34,354.8) scale(1.282,1)" font-size="6.88">0</text>
<g transform="translate(236.15,269.45) rotate(-90)">
<text transform="translate(-17.82,0) scale(0.937,1)" font-size="7.9">F</text>
<text transform="translate(-12.64,0) scale(1.034,1)" font-size="7.9">1</text>
<text transform="translate(-7.78,0) scale(1.134,1)" font-size="7.9">-</text>
<text transform="translate(-4.66,0) scale(0.971,1)" font-size="7.9">s</text>
<text transform="translate(-0.35,0) scale(0.931,1)" font-size="7.9">c</text>
<text transform="translate(3.99,0) scale(1.056,1)" font-size="7.9">o</text>
<text transform="translate(9.03,0) scale(1.232,1)" font-size="7.9">r</text>
<text transform="translate(12.67,0) scale(1.140,1)" font-size="7.9">e</text>
</g>
<text transform="translate(318.66,364.35) scale(1.122,1)" font-size="7.9">M</text>
<text transform="translate(326.24,364.35) scale(1.007,1)" font-size="7.9">a</text>
<text transform="translate(331.4,364.35) scale(1.004,1)" font-size="7.9">s</text>
<text transform="translate(335.81,364.35) scale(1.192,1)" font-size="7.9">k</text>
<text transform="translate(340.86,364.35) scale(1.232,1)" font-size="7.9">i</text>
<text transform="translate(343.58,364.35) scale(1.103,1)" font-size="7.9">n</text>
<text transform="translate(348.91,364.35) scale(1.130,1)" font-size="7.9">g</text>
<text transform="translate(357.21,364.35) scale(1.006,1)" font-size="7.9">R</text>
<text transform="translate(363.02,364.35) scale(1.007,1)" font-size="7.9">a</text>
<text transform="translate(368.02,364.35) scale(1.387,1)" font-size="7.9">t</text>
<text transform="translate(371.67,364.35) scale(1.232,1)" font-size="7.9">i</text>
<text transform="translate(374.32,364.35) scale(1.093,1)" font-size="7.9">o</text>
<text transform="translate(382.48,364.35) scale(1.000,1)" font-size="7.9">(</text>
<text transform="translate(385.73,364.35) scale(1.083,1)" font-size="7.9">%</text>
<text transform="translate(393.95,364.35) scale(1.000,1)" font-size="7.9">)</text>
<line x1="270.35" y1="219.25" x2="270.35" y2="326.1" stroke="#1f77b4" stroke-width="1.35"/>
<line x1="305.35" y1="225.9" x2="305.35" y2="288.7" stroke="#1f77b4" stroke-width="1.35"/>
<line x1="340.35" y1="221.85" x2="340.35" y2="232.75" stroke="#1f77b4" stroke-width="1.35"/>
<line x1="375.35" y1="234.9" x2="375.35" y2="238.9" stroke="#1f77b4" stroke-width="1.35"/>
<line x1="410.35" y1="224.3" x2="410.35" y2="232.1" stroke="#1f77b4" stroke-width="1.35"/>
<line x1="445.35" y1="225.1" x2="445.35" y2="233.1" stroke="#1f77b4" stroke-width="1.35"/>
<line x1="270.35" y1="206.15" x2="270.35" y2="219.25" stroke="#ff7f0e" stroke-width="1.35"/>
<line x1="305.35" y1="204.35" x2="305.35" y2="213.45" stroke="#ff7f0e" stroke-width="1.35"/>
<line x1="340.35" y1="211.15" x2="340.35" y2="220.25" stroke="#ff7f0e" stroke-width="1.35"/>
<line x1="375.35" y1="211" x2="375.35" y2="215" stroke="#ff7f0e" stroke-width="1.35"/>
<line x1="410.35" y1="212.6" x2="410.35" y2="216.6" stroke="#ff7f0e" stroke-width="1.35"/>
<line x1="445.35" y1="212.1" x2="445.35" y2="216.1" stroke="#ff7f0e" stroke-width="1.35"/>
<polyline points="270.35,269.8 305.35,257.3 340.35,227.3 375.35,236.9 410.35,228.2 445.35,229.1" fill="none" stroke="#1f77b4" stroke-width="1.15" stroke-linejoin="round"/>
<circle cx="270.35" cy="269.8" r="3.15" fill="#1f77b4"/>
<circle cx="305.35" cy="257.3" r="3.15" fill="#1f77b4"/>
<circle cx="340.35" cy="227.3" r="3.15" fill="#1f77b4"/>
<circle cx="375.35" cy="236.9" r="3.15" fill="#1f77b4"/>
<circle cx="410.35" cy="228.2" r="3.15" fill="#1f77b4"/>
<circle cx="445.35" cy="229.1" r="3.15" fill="#1f77b4"/>
<polyline points="270.35,212.7 305.35,208.9 340.35,215.7 375.35,213 410.35,214.6 445.35,214.1" fill="none" stroke="#ff7f0e" stroke-width="1.15" stroke-linejoin="round"/>
<rect x="267.35" y="209.7" width="6.0" height="6.0" fill="#ff7f0e"/>
<rect x="302.35" y="205.9" width="6.0" height="6.0" fill="#ff7f0e"/>
<rect x="337.35" y="212.7" width="6.0" height="6.0" fill="#ff7f0e"/>
<rect x="372.35" y="210" width="6.0" height="6.0" fill="#ff7f0e"/>
<rect x="407.35" y="211.6" width="6.0" height="6.0" fill="#ff7f0e"/>
<rect x="442.35" y="211.1" width="6.0" height="6.0" fill="#ff7f0e"/>
<line x1="390.23" y1="319.4" x2="390.23" y2="327.2" stroke="#1f77b4" stroke-width="1.35"/>
<line x1="382" y1="323.3" x2="398.45" y2="323.3" stroke="#1f77b4" stroke-width="1.15"/>
<circle cx="390.23" cy="323.3" r="3.15" fill="#1f77b4"/>
<text transform="translate(404.07,326.05) scale(1.122,1)" font-size="7.9">M</text>
<text transform="translate(411.38,326.05) scale(1.101,1)" font-size="7.9">A</text>
<text transform="translate(417.68,326.05) scale(0.894,1)" font-size="7.9">E</text>
<line x1="390.23" y1="330.6" x2="390.23" y2="338.4" stroke="#ff7f0e" stroke-width="1.35"/>
<line x1="382" y1="334.5" x2="398.45" y2="334.5" stroke="#ff7f0e" stroke-width="1.15"/>
<rect x="387.23" y="331.5" width="6.0" height="6.0" fill="#ff7f0e"/>
<text transform="translate(404.45,337.25) scale(0.927,1)" font-size="7.9">S</text>
<text transform="translate(409.67,337.25) scale(1.103,1)" font-size="7.9">n</text>
<text transform="translate(415.13,337.25) scale(1.007,1)" font-size="7.9">a</text>
<text transform="translate(420.23,337.25) scale(1.126,1)" font-size="7.9">p</text>
<text transform="translate(425.68,337.25) scale(1.173,1)" font-size="7.9">-</text>
<text transform="translate(428.9,337.25) scale(1.122,1)" font-size="7.9">M</text>
<text transform="translate(436.2,337.25) scale(1.101,1)" font-size="7.9">A</text>
<text transform="translate(442.51,337.25) scale(0.894,1)" font-size="7.9">E</text>
<line x1="261.45" y1="191.4" x2="261.45" y2="345.6" stroke="#a0a0a0" stroke-width="1.4"/>
<line x1="453.85" y1="191.4" x2="453.85" y2="345.6" stroke="#a0a0a0" stroke-width="1.4"/>
<line x1="260.85" y1="191.4" x2="454.55" y2="191.4" stroke="#8a8a8a" stroke-width="1.4"/>
<line x1="260.85" y1="345.6" x2="454.55" y2="345.6" stroke="#8a8a8a" stroke-width="1.4"/>
</svg></div></body></html>
